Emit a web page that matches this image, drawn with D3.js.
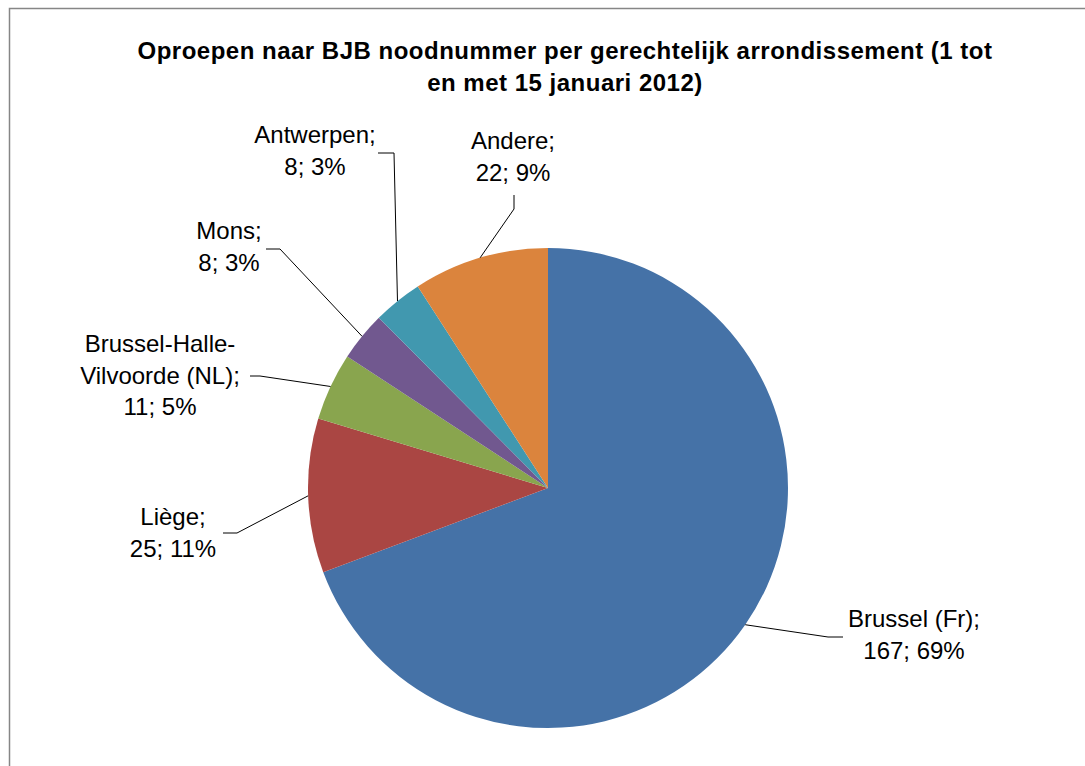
<!DOCTYPE html>
<html>
<head>
<meta charset="utf-8">
<script src="https://cdn.jsdelivr.net/npm/d3@7/dist/d3.min.js"></script>
<style>
  html, body { margin: 0; padding: 0; background: #fff; }
  svg { display: block; }
  text { font-family: "Liberation Sans", Arial, sans-serif; fill: #000; }
</style>
</head>
<body>
<svg id="chart" width="1085" height="766"></svg>
<script>
// Calls per judicial district
const categories = ["Brussel (Fr)", "Liège", "Brussel-Halle-Vilvoorde (NL)", "Mons", "Antwerpen", "Andere"];
const values = [167, 25, 11, 8, 8, 22];
const percents = [69, 11, 5, 3, 3, 9];
const colors = ["#4572A7", "#AA4643", "#89A54E", "#71588F", "#4198AF", "#DB843D"];
// Label text lines (category name wrapped as shown)
const labelLines = [
  ["Brussel (Fr);"],
  ["Liège;"],
  ["Brussel-Halle-", "Vilvoorde (NL);"],
  ["Mons;"],
  ["Antwerpen;"],
  ["Andere;"]
];

// Label placement: text centre x, first baseline y, leader knee and end points
const labelLayout = [
  { x: 914, y: 627, knee: [828, 637], end: [843, 637] },
  { x: 173, y: 525, knee: [237, 533], end: [223, 533] },
  { x: 160, y: 352, knee: [260, 376], end: [250, 376] },
  { x: 229, y: 239, knee: [280, 249], end: [266, 249] },
  { x: 315, y: 143, knee: [394, 153], end: [378, 153] },
  { x: 513, y: 149, knee: [514, 209], end: [514, 195] }
];

const titleLines = [
  "Oproepen naar BJB noodnummer per gerechtelijk arrondissement (1 tot",
  "en met 15 januari 2012)"
];

const svg = d3.select("#chart");
const W = 1085, H = 766;
const cx = 548, cy = 488, R = 240;
const lineH = 31.5;

// Chart frame (left and top edges visible)
svg.append("path")
  .attr("d", `M9.5,${H} L9.5,8.5 L${W},8.5`)
  .attr("fill", "none")
  .attr("stroke", "#868686")
  .attr("stroke-width", 1.5);

// Title
svg.append("g").selectAll("text")
  .data(titleLines)
  .join("text")
  .attr("x", 565)
  .attr("y", (d, i) => 59 + i * 32)
  .attr("text-anchor", "middle")
  .attr("font-size", 24)
  .attr("font-weight", "bold")
  .attr("letter-spacing", 0.5)
  .text(d => d);

const data = categories.map((c, i) => ({ name: c, value: values[i], pct: percents[i], i }));

const pie = d3.pie().value(d => d.value).sort(null);
const arcs = pie(data);
const arc = d3.arc().innerRadius(0).outerRadius(R);

const g = svg.append("g").attr("transform", `translate(${cx},${cy})`);
g.selectAll("path")
  .data(arcs)
  .join("path")
  .attr("d", arc)
  .attr("fill", d => colors[d.data.i]);

// Leader lines from slice edge (mid-angle) to label
const edge = d3.arc().innerRadius(R).outerRadius(R);
svg.append("g").selectAll("polyline")
  .data(arcs)
  .join("polyline")
  .attr("fill", "none")
  .attr("stroke", "#000")
  .attr("stroke-width", 1)
  .attr("points", d => {
    const c = edge.centroid(d);
    const L = labelLayout[d.data.i];
    return [[cx + c[0], cy + c[1]], L.knee, L.end].map(p => p.join(",")).join(" ");
  });

// Data labels: name; value; percent
const labels = svg.append("g").selectAll("text")
  .data(arcs)
  .join("text")
  .attr("text-anchor", "middle")
  .attr("font-size", 24);
labels.each(function(d) {
  const L = labelLayout[d.data.i];
  const lines = labelLines[d.data.i].concat([`${d.data.value}; ${d.data.pct}%`]);
  d3.select(this).selectAll("tspan")
    .data(lines)
    .join("tspan")
    .attr("x", L.x)
    .attr("y", (t, k) => L.y + k * lineH)
    .text(t => t);
});
</script>
</body>
</html>
